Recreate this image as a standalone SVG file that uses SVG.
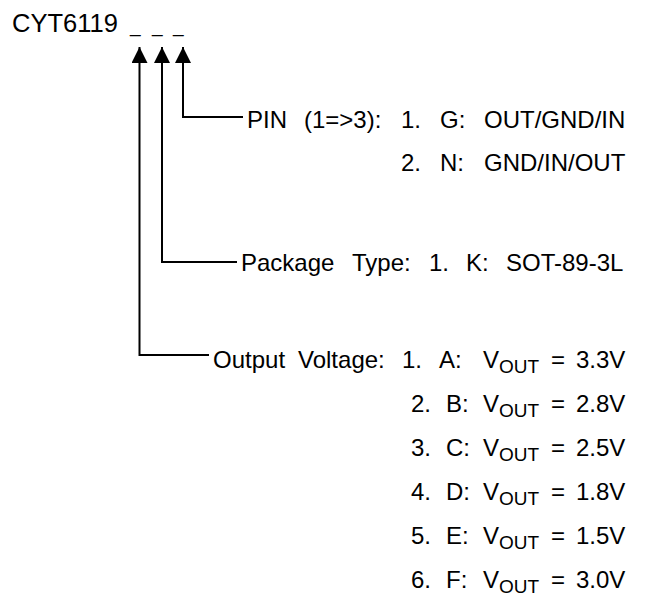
<svg xmlns="http://www.w3.org/2000/svg" width="653" height="612" viewBox="0 0 653 612">
<defs>
<style>
text{font-family:"Liberation Sans",Arial,sans-serif;font-size:24px;fill:#000}
.sub{font-size:19px}
.us{font-size:19px}
.con{stroke:#000;stroke-width:2;fill:none}
</style>
<marker id="ah" viewBox="0 0 16 16" refX="16" refY="8" markerWidth="16" markerHeight="16" markerUnits="userSpaceOnUse" orient="auto">
<path d="M0,0 L16,8 L0,16 z" fill="#000"/>
</marker>
</defs>
<rect width="653" height="612" fill="#fff"/>
<g id="part">
<text x="12" y="32" style="font-size:25.5px">CYT6119</text>
<text y="32" class="us"><tspan x="130">_</tspan><tspan x="152">_</tspan><tspan x="173">_</tspan></text>
</g>
<g id="connectors">
<path class="con" d="M243,117 H183 V47" marker-end="url(#ah)"/>
<path class="con" d="M237,262 H162 V47" marker-end="url(#ah)"/>
<path class="con" d="M209,355 H139.5 V47" marker-end="url(#ah)"/>
</g>
<g id="pin">
<text y="128"><tspan x="247">PIN</tspan><tspan x="304">(1=&gt;3):</tspan><tspan x="401">1.</tspan><tspan x="440">G:</tspan><tspan x="484">OUT/GND/IN</tspan></text>
<text y="171"><tspan x="401">2.</tspan><tspan x="440">N:</tspan><tspan x="484">GND/IN/OUT</tspan></text>
</g>
<g id="package">
<text y="271"><tspan x="241">Package</tspan><tspan x="352">Type:</tspan><tspan x="429">1.</tspan><tspan x="466">K:</tspan><tspan x="506">SOT-89-3L</tspan></text>
</g>
<g id="voltage">
<text y="368"><tspan x="213">Output</tspan><tspan x="298">Voltage:</tspan><tspan x="402">1.</tspan><tspan x="439">A:</tspan><tspan x="483">V</tspan><tspan class="sub" dy="5">OUT</tspan><tspan x="551" dy="-5">=</tspan><tspan x="576">3.3V</tspan></text>
<text y="412"><tspan x="411">2.</tspan><tspan x="446">B:</tspan><tspan x="483">V</tspan><tspan class="sub" dy="5">OUT</tspan><tspan x="551" dy="-5">=</tspan><tspan x="576">2.8V</tspan></text>
<text y="456"><tspan x="411">3.</tspan><tspan x="446">C:</tspan><tspan x="483">V</tspan><tspan class="sub" dy="5">OUT</tspan><tspan x="551" dy="-5">=</tspan><tspan x="576">2.5V</tspan></text>
<text y="500"><tspan x="411">4.</tspan><tspan x="446">D:</tspan><tspan x="483">V</tspan><tspan class="sub" dy="5">OUT</tspan><tspan x="551" dy="-5">=</tspan><tspan x="576">1.8V</tspan></text>
<text y="544"><tspan x="411">5.</tspan><tspan x="446">E:</tspan><tspan x="483">V</tspan><tspan class="sub" dy="5">OUT</tspan><tspan x="551" dy="-5">=</tspan><tspan x="576">1.5V</tspan></text>
<text y="588"><tspan x="411">6.</tspan><tspan x="446">F:</tspan><tspan x="483">V</tspan><tspan class="sub" dy="5">OUT</tspan><tspan x="551" dy="-5">=</tspan><tspan x="576">3.0V</tspan></text>
</g>
</svg>
